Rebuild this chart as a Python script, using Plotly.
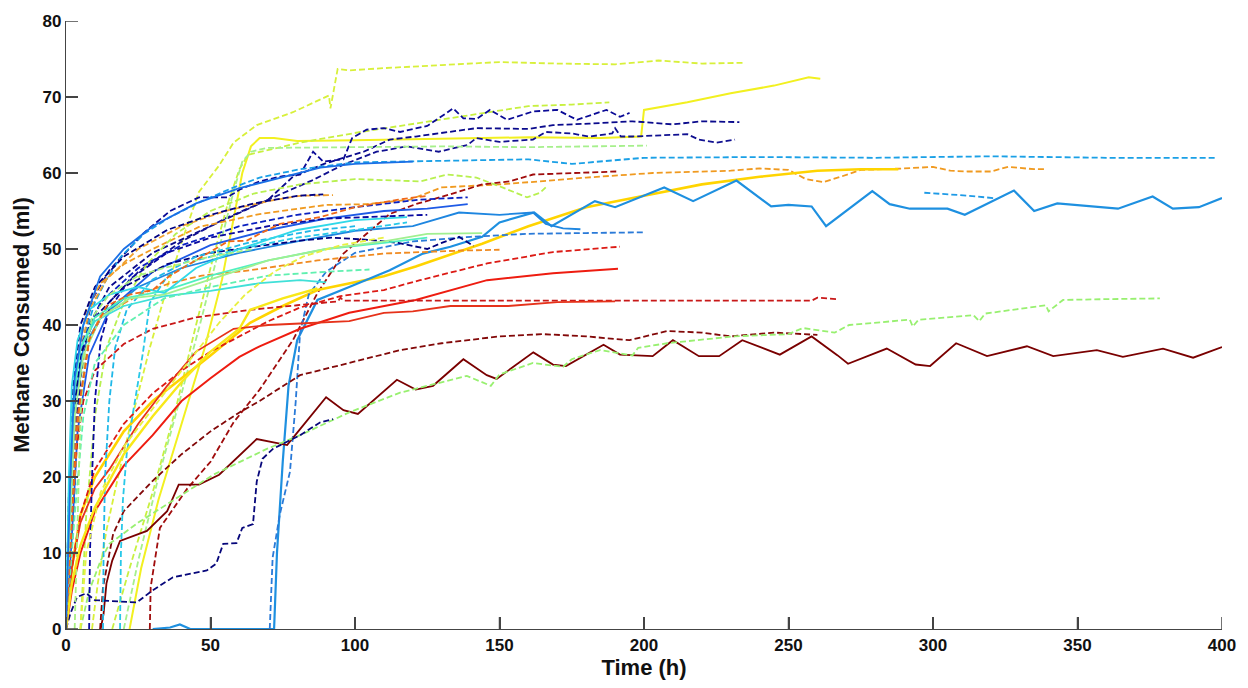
import plotly.graph_objects as go

# ---------------- data (time in h, methane consumed in ml) ----------------
X_TICKS = [0, 50, 100, 150, 200, 250, 300, 350, 400]
Y_TICKS = [0, 10, 20, 30, 40, 50, 60, 70, 80]

T01 = [9, 11, 14, 18, 23, 29, 35, 41, 46, 53, 58, 66, 78.5, 91, 91.5, 94, 98, 110, 130, 150, 170, 190, 205, 220, 235]
M01 = [0, 6, 13, 20, 28, 37, 45, 52, 57.5, 61, 64, 66.3, 68, 70.2, 68.5, 73.7, 73.5, 73.8, 74.2, 74.6, 74.4, 74.3, 74.8, 74.4, 74.5]

T02 = [22, 26, 32, 40, 48, 54, 58, 61, 64, 67, 72, 80, 100, 130, 160, 185, 199, 200, 215, 230, 245, 257, 261]
M02 = [0, 8, 17, 27, 37, 46, 54, 60, 63.5, 64.6, 64.6, 64.2, 64.3, 64.5, 64.7, 64.6, 64.8, 68.3, 69.3, 70.5, 71.5, 72.6, 72.4]

T03 = [16, 22, 30, 38, 45, 51, 56, 60, 63, 81, 102, 130, 160, 175, 188]
M03 = [0, 8, 18, 29, 40, 49, 56, 60.5, 62.4, 64, 65.4, 67, 68.8, 69, 69.3]

T04 = [0, 1.5, 3, 6, 9, 15, 26.6, 36, 46, 56, 60, 67, 75, 81, 85.5, 89, 96, 99, 104, 110, 115.6, 125, 134, 137.5, 142, 146.7, 152.6, 161.6, 170, 176.8, 187, 191.7, 195]
M04 = [0, 12, 25, 38, 43.3, 47.2, 52, 55, 56.8, 56.8, 57.8, 58.9, 59.6, 59.8, 62.8, 61.5, 61.8, 64.6, 65.7, 65.9, 65.4, 66.2, 68.5, 67.2, 67.1, 68.3, 67, 68.1, 68.3, 67, 68.3, 67.4, 67.9]

T05 = [0, 2, 5, 8, 15, 30, 50, 70, 78.5, 90, 103, 112, 121, 142, 160, 168.5, 181, 196, 210, 220, 233]
M05 = [0, 15, 33, 40, 45, 49.5, 53, 56.5, 59.5, 61.3, 62.8, 64.4, 64.8, 65.9, 65.8, 66.3, 66.5, 66.8, 66.4, 66.8, 66.7]

T06 = [0, 2, 4, 8, 15, 25, 40, 55, 70, 85, 96, 107.5, 118, 129, 139, 142, 150, 161.6, 166, 175, 181, 189, 190, 192, 196, 215, 219, 225, 231.5]
M06 = [0, 10, 28, 38, 43, 47, 51, 54, 56.5, 59, 61.1, 62.8, 63.5, 62.8, 63.7, 64.6, 64.1, 64.4, 65.4, 65.2, 64.8, 65.2, 65.9, 64.8, 64.8, 65.1, 64.4, 64, 64.4]

T07 = [20, 25, 32, 40, 47, 53, 58, 61, 64, 69.5, 100, 130, 160, 201]
M07 = [0, 9, 20, 31, 41, 50, 57.6, 61.5, 62.8, 63.3, 63.4, 63.5, 63.4, 63.6]

T08 = [0, 1, 3, 6, 10, 14, 19, 27, 36, 47, 58, 67, 81, 100, 130, 160, 175, 200, 240, 280, 320, 360, 398]
M08 = [0, 12, 28, 38, 43, 46, 49, 52, 54.2, 56.3, 58.1, 59.4, 60.5, 61.4, 61.6, 61.8, 61.2, 62, 62.1, 62, 62.2, 62, 62]

T09 = [0, 2, 4, 7, 12, 20, 30, 46, 67, 90, 104, 119, 130, 150, 164, 180, 203, 230, 240, 250, 256, 262, 268, 275, 290, 300, 306, 312, 320, 326, 335, 339]
M09 = [0, 20, 35, 42, 45.5, 48, 50, 52.9, 54.6, 55.8, 55.9, 56.5, 58.1, 58.5, 58.9, 59.4, 60, 60.3, 60.6, 60.4, 59.2, 58.8, 59.5, 60.4, 60.6, 60.8, 60.3, 60.2, 60.2, 60.8, 60.5, 60.5]

T10 = [29, 29.3, 32.5, 42, 50, 58, 67, 78.5, 87, 96, 104, 112, 121, 133, 144, 153.6, 161.6, 175, 190.6]
M10 = [0, 5.5, 13.3, 18.5, 22, 27.2, 31.5, 38, 44.2, 49.4, 52, 54.6, 55.9, 57.2, 58.5, 58.9, 59.8, 60, 60.2]

T11 = [0, 2, 5, 10, 20, 30, 40, 50, 63.7, 75, 87, 110, 121, 144, 160, 180, 200, 220, 240, 260, 275, 288]
M11 = [0, 8, 15, 20, 26, 30, 33, 36, 40.3, 42.5, 44.6, 46.4, 47.7, 50.7, 53, 55.5, 57, 58.5, 59.5, 60.3, 60.5, 60.5]

T12 = [30, 36, 39.4, 43, 72, 73, 75, 77, 80, 87, 98, 112, 123.5, 133, 144, 150, 162, 168, 183, 190, 207, 217, 232, 244, 250, 258, 263, 279, 285, 292, 305, 311, 328, 335, 343, 356, 364, 376, 383, 392, 400]
M12 = [0, 0.2, 0.6, 0, 0, 10, 22, 32, 38, 43.3, 45, 47.2, 49.4, 50.3, 51.6, 53.5, 54.8, 53, 56.3, 55.5, 58.1, 56.3, 59, 55.6, 55.8, 55.6, 53, 57.6, 55.9, 55.3, 55.3, 54.5, 57.7, 55, 56, 55.6, 55.3, 56.9, 55.3, 55.5, 56.7]

T13 = [297, 309, 321]
M13 = [57.4, 57.1, 56.7]

T14 = [5, 7, 10, 14, 20, 28, 38, 50, 65, 81, 100, 122.5, 132, 142, 151, 159.5, 164, 166]
M14 = [0, 15, 28, 37, 43, 48, 52, 55, 57.3, 58.5, 59.2, 58.9, 59.8, 59.4, 58.1, 56.8, 57.4, 58.1]

T15 = [0, 2, 4, 8, 14, 25, 40, 55, 70, 81, 92.4]
M15 = [0, 18, 34, 42, 46, 50, 53, 55, 56.3, 57, 57.1]

T16 = [0, 1, 2.5, 5, 10, 20, 35, 50, 65, 80, 89]
M16 = [0, 18, 32, 40, 45, 49, 52.5, 54.5, 56, 57, 57.2]

T17 = [0, 1.5, 3, 6, 12, 25, 40, 60, 80, 100, 122.5, 139]
M17 = [0, 14, 28, 38, 43, 47.5, 50.5, 53, 54.5, 55.5, 56.5, 56.8]

T18 = [0, 2, 4, 8, 15, 30, 50, 70, 90, 110, 125, 139]
M18 = [0, 12, 26, 36, 42, 47, 50.5, 52.5, 54, 55, 55.3, 55.9]

T19 = [0, 1.5, 3, 6, 12, 25, 40, 60, 80, 100, 120, 136, 150, 161.6, 166, 172, 178]
M19 = [0, 18, 30, 37, 41, 45, 47.5, 49.5, 51, 52.4, 53, 54.8, 54.5, 54.8, 53.3, 52.7, 52.6]

T20 = [70.5, 71.5, 74, 77.5, 79.5, 81, 84, 90, 100, 120, 140, 160, 180, 200]
M20 = [0, 9.4, 15.1, 20.7, 30, 39, 44, 47, 49.5, 51, 51.6, 52, 52.1, 52.2]

T21 = [0, 1, 2.5, 5, 10, 20, 35, 50, 65, 81, 92, 105, 115, 125, 130, 136, 141]
M21 = [0, 15, 28, 36, 41, 45, 48, 49.5, 50.3, 51.1, 51.5, 51.2, 50.8, 50, 50.8, 51.6, 50.4]

T22 = [0, 2, 5, 8, 12, 26.6, 36, 47, 63.7, 87, 110, 122.5, 137, 150]
M22 = [0, 15, 30, 38, 41.2, 44.2, 45.5, 46.5, 47.2, 48.5, 49.4, 49.6, 49.8, 49.9]

T23 = [0, 2, 5, 10, 20, 30, 40, 50, 60, 70, 81, 95, 110, 122.5, 145.7, 168.5, 191.7]
M23 = [0, 8, 15, 21, 27, 31, 34, 36.5, 38.5, 40.5, 42.3, 43.8, 44.6, 45.9, 48.1, 49.6, 50.3]

T24 = [0, 2, 5, 10, 20, 30, 40, 50, 60, 67, 81, 98, 121, 145.7, 168.5, 191]
M24 = [0, 5, 10, 15.5, 21.5, 25.5, 30, 33, 35.8, 37.2, 39.5, 41.6, 43.3, 45.9, 46.8, 47.4]

T25 = [0, 1.5, 3, 6, 10, 20, 30, 45, 63.7, 80, 94, 95, 96, 150, 200, 258, 260, 267]
M25 = [0, 12, 22, 30, 34, 37.5, 39.5, 41, 42, 42.6, 43.1, 43.6, 43.2, 43.2, 43.2, 43.2, 43.6, 43.4]

T26 = [0, 2, 5, 10, 15, 25, 35, 45, 58, 70, 81, 98, 110, 120, 133, 153, 170, 190]
M26 = [0, 8, 14, 18.5, 21, 27, 32, 36.5, 39.5, 40, 40.2, 40.5, 41.6, 41.8, 42.5, 42.5, 43, 43.1]

T27 = [11.8, 12.8, 16.3, 20, 30, 40, 50, 60, 67, 81, 100, 115.6, 130, 150, 165, 180, 195, 208, 220, 230, 245, 260]
M27 = [0, 5.5, 12.5, 15.5, 19.5, 23, 26, 28.5, 30, 33.4, 35.2, 36.7, 37.6, 38.5, 38.8, 38.5, 38, 39.2, 39, 38.5, 39, 38.7]

T28 = [12, 13, 14, 16, 18.7, 28, 35, 39, 46, 53, 66, 76.5, 81, 90, 96, 101, 114.5, 121, 127, 137.5, 145.6, 149, 161.7, 168.5, 173, 186, 191.7, 203, 210, 219, 226, 234, 247, 258, 267, 270.6, 284, 294, 299, 308, 318.7, 332.5, 341.6, 356.7, 365.7, 379.6, 390, 400]
M28 = [0, 2, 6, 9, 11.6, 12.9, 15.5, 19, 19, 20.3, 25, 24.2, 26.3, 30.5, 28.8, 28.3, 32.8, 31.5, 32, 35.5, 33.4, 32.9, 36.4, 34.8, 34.6, 37.4, 36.1, 35.9, 38, 35.9, 35.9, 38, 36.1, 38.5, 36, 34.9, 36.9, 34.8, 34.6, 37.6, 35.9, 37.2, 35.9, 36.7, 35.8, 36.9, 35.7, 37.1]

T29 = [5, 8, 12, 15, 25, 35, 51, 69.5, 81, 98, 115.6, 138.7, 147, 150, 161.6, 172, 175, 184.8, 196, 198, 208, 231, 250, 255, 266, 271, 292, 293, 295, 314, 316, 318, 339, 340, 345, 360, 378.5]
M29 = [0, 5, 9, 11.2, 14, 16.4, 20.3, 23.7, 25.5, 28.5, 31.1, 33.3, 32, 33.5, 35, 34.5, 35.5, 36.7, 36, 37, 37.6, 38.5, 38.8, 39.6, 39, 40, 40.7, 39.8, 40.7, 41.3, 40.5, 41.5, 42.6, 41.8, 43.3, 43.4, 43.5]

T30 = [0, 1.5, 3.8, 7, 10, 24.5, 30, 37, 48.7, 52, 54.4, 59, 61, 64.7, 66, 68, 71.6, 81, 88, 92.4]
M30 = [0, 2, 4.2, 4.7, 3.8, 3.5, 5.1, 6.8, 7.7, 8.6, 11.2, 11.3, 13.3, 13.8, 19.4, 22.4, 23.7, 25.5, 27.2, 27.6]

T31 = [18.7, 19, 19.7, 21, 23.2, 26.6, 29, 35, 45, 60, 80, 100, 118]
M31 = [0, 10, 17, 23, 28.5, 36.3, 42.9, 46.4, 48.5, 50, 51.5, 52.5, 53.5]

T32 = [8, 8.3, 9, 10, 12, 15, 22, 35, 50, 70, 90, 110, 125]
M32 = [0, 10, 20, 30, 38, 42, 46, 49.5, 51.5, 53, 54, 54.3, 54.5]

T33 = [12.8, 13, 13.5, 15, 17, 21, 30, 45, 65, 85, 100]
M33 = [0, 10, 20, 30, 37, 42, 46, 49, 51, 52.4, 53]

T34 = [0, 1.5, 3, 5, 10, 20, 34, 50, 67, 81, 90]
M34 = [0, 20, 32, 37, 40.5, 42.5, 43.8, 44.5, 45.5, 45.9, 45.6]

T35 = [0, 1, 2.5, 5, 10, 20, 34, 50, 70, 90, 110, 125]
M35 = [0, 18, 30, 37, 41, 43.5, 44.5, 46.5, 48.5, 50, 50.8, 51.5]

T36 = [0, 1, 2, 4, 8, 15, 25, 34, 45, 60, 80, 100, 118]
M36 = [0, 20, 32, 38, 42, 44, 45, 44.2, 47.5, 50, 52.5, 53.8, 54.2]

T37 = [0, 1.5, 3, 6, 12, 22, 34, 50, 70, 90, 110, 125, 144]
M37 = [0, 15, 28, 36, 41, 43.5, 44, 46, 48.5, 50, 51, 52, 52.1]

T38 = [0, 3, 6, 10, 20, 34, 50, 70, 90, 105]
M38 = [0, 15, 28, 35, 40, 43.5, 45, 46.5, 47, 47.3]

T39 = [3, 4, 5, 6.5, 9, 15, 25, 34, 50, 65]
M39 = [0, 15, 28, 36, 41, 44, 46.5, 47.5, 49, 50]

T40 = [5, 7, 12, 20, 30, 40, 53, 62, 72, 82, 95, 110]
M40 = [0, 10, 18, 24, 29, 34, 40.3, 44, 47, 49, 50.5, 51.5]

T41 = [0, 2, 5, 10, 20, 30, 40, 50, 60, 63.7, 75, 87]
M41 = [0, 6, 11, 16, 23, 28, 32.5, 36.5, 39.5, 42, 43.5, 44.8]

T42 = [0, 2, 4, 8, 14, 22, 30, 36, 45, 56, 62.6, 67, 74, 88, 100, 115, 125]
M42 = [0, 14, 28, 38, 42.5, 44, 44.6, 46.5, 48.5, 51, 51.1, 52, 53.3, 54.2, 55.5, 56.5, 57]

T43 = [0, 1.5, 3, 6, 11.8, 20, 30, 45, 60, 75, 88, 100, 120]
M43 = [0, 20, 33, 40, 46.4, 50, 53, 56, 58, 59.5, 60.7, 61.2, 61.5]

# ---------------- styles (colour, dash, width) ----------------
DASH = "6px,3px"
SOLID = "solid"
STYLES = [
    (T01, M01, "#d8f03a", DASH, 1.8),
    (T02, M02, "#f2f020", SOLID, 2.0),
    (T03, M03, "#c8f040", DASH, 1.8),
    (T04, M04, "#0a0a96", DASH, 1.8),
    (T05, M05, "#0a0a8c", DASH, 1.8),
    (T06, M06, "#101090", DASH, 1.8),
    (T07, M07, "#a6f08c", DASH, 1.8),
    (T08, M08, "#1aa0e6", DASH, 1.8),
    (T09, M09, "#f09a20", DASH, 1.8),
    (T10, M10, "#a00c0c", DASH, 1.8),
    (T11, M11, "#ffd400", SOLID, 2.6),
    (T12, M12, "#1e90e0", SOLID, 2.2),
    (T13, M13, "#1e9ae6", DASH, 1.8),
    (T14, M14, "#b8f050", DASH, 1.8),
    (T15, M15, "#f0a030", DASH, 1.8),
    (T16, M16, "#000080", DASH, 1.8),
    (T17, M17, "#0a20c0", DASH, 1.8),
    (T18, M18, "#1e5ae6", SOLID, 1.8),
    (T19, M19, "#1e86e0", SOLID, 1.8),
    (T20, M20, "#2a7ad8", DASH, 1.8),
    (T21, M21, "#00007e", DASH, 1.8),
    (T22, M22, "#f08a20", DASH, 1.8),
    (T23, M23, "#dc1a14", DASH, 1.8),
    (T24, M24, "#ee1c10", SOLID, 2.0),
    (T25, M25, "#c81818", DASH, 1.8),
    (T26, M26, "#e6321a", SOLID, 1.8),
    (T27, M27, "#820808", DASH, 1.8),
    (T28, M28, "#7a0000", SOLID, 1.8),
    (T29, M29, "#98f070", DASH, 1.8),
    (T30, M30, "#06067a", DASH, 1.8),
    (T31, M31, "#28c8e8", DASH, 1.8),
    (T32, M32, "#0a0aa0", DASH, 1.8),
    (T33, M33, "#20b8e8", DASH, 1.8),
    (T34, M34, "#40e0d8", SOLID, 1.8),
    (T35, M35, "#50f0c0", SOLID, 1.8),
    (T36, M36, "#30d8e8", SOLID, 1.8),
    (T37, M37, "#a0f090", SOLID, 1.8),
    (T38, M38, "#60f0b0", DASH, 1.8),
    (T39, M39, "#a8f080", DASH, 1.8),
    (T40, M40, "#e8f040", DASH, 1.8),
    (T41, M41, "#f8e818", SOLID, 2.4),
    (T42, M42, "#f06818", DASH, 1.8),
    (T43, M43, "#1a70e6", SOLID, 1.8),
]

fig = go.Figure()
for t, m, col, dash, w in STYLES:
    fig.add_trace(go.Scatter(x=t, y=m, mode="lines",
                             line=dict(color=col, dash=dash, width=w),
                             showlegend=False, hoverinfo="skip"))

W, H = 1248, 688
ML, MR, MT, MB = 66, 26, 15, 59
TICK_PX = 12
TICK_COLOR = "#444444"

# inward tick marks (axis decoration, placed at the tick values)
shapes = []
for v in X_TICKS:
    shapes.append(dict(type="line", xref="x", yref="paper", x0=v, x1=v,
                       y0=0, y1=TICK_PX / (H - MT - MB),
                       line=dict(color=TICK_COLOR, width=1.5), layer="above"))
for v in Y_TICKS:
    shapes.append(dict(type="line", xref="paper", yref="y", x0=0, x1=TICK_PX / (W - ML - MR),
                       y0=v, y1=v,
                       line=dict(color=TICK_COLOR, width=1.5), layer="above"))

FONT = "Liberation Sans, Arial, sans-serif"
axis_common = dict(
    showgrid=False, zeroline=False, showline=True, linecolor=TICK_COLOR, linewidth=1.3,
    ticks="inside", ticklen=TICK_PX, tickwidth=1.5, tickcolor=TICK_COLOR,
    tickfont=dict(family=FONT, size=17, color="#111111", weight="bold"),
    mirror=False, layer="above traces",
)

fig.update_layout(
    width=W, height=H,
    paper_bgcolor="white", plot_bgcolor="white",
    margin=dict(l=ML, r=MR, t=MT, b=MB),
    shapes=shapes,
    xaxis=dict(range=[0, 400], tickvals=X_TICKS,
               title=dict(text="Time (h)", standoff=4,
                          font=dict(family=FONT, size=22, color="#111111", weight="bold")),
               **axis_common),
    yaxis=dict(range=[0, 80], tickvals=Y_TICKS,
               title=dict(text="Methane Consumed (ml)", standoff=6,
                          font=dict(family=FONT, size=22, color="#111111", weight="bold")),
               **axis_common),
)

fig.write_html("out.html")
